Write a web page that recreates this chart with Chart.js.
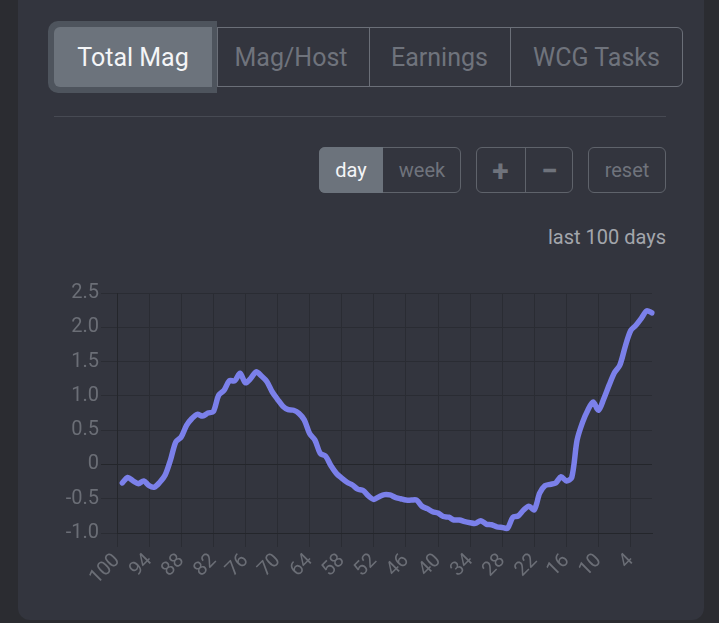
<!DOCTYPE html>
<html>
<head>
<meta charset="utf-8">
<script src="https://cdn.jsdelivr.net/npm/chart.js@4.4.1/dist/chart.umd.min.js"></script>
<style>
  html, body { margin: 0; padding: 0; }
  body {
    width: 719px; height: 623px; overflow: hidden; position: relative;
    background: #2b2c31; font-family: Roboto, "Noto Sans", sans-serif;
  }
  .abs { position: absolute; box-sizing: border-box; }
  .panel { left: 18px; top: -20px; width: 686px; height: 640px; border-radius: 12px; background: #33353e; }
  .group { border: 1px solid #6b6f78; border-radius: 6px; }
  .btn { display: flex; align-items: center; justify-content: center; color: #6f737c; }
  .sep { width: 1px; background: #6b6f78; }
  .ring { left: 48px; top: 21px; width: 169px; height: 72px; border-radius: 10px 0 0 10px; background: #4e545d; }
  .tab { top: 27px; height: 60px; font-size: 25px; }
  .small { top: 147px; height: 46px; font-size: 20px; }
  #wrap { left: 0; top: 0; width: 719px; height: 623px; }
</style>
</head>
<body>
<div class="abs panel"></div>

<!-- metric tabs -->
<div class="abs group" style="left:54px;top:27px;width:629px;height:60px;"></div>
<div class="abs ring"></div>
<div class="abs btn tab" style="left:54px;width:158px;background:#6c737c;border-radius:6px 0 0 6px;color:#f4f5f7;">Total Mag</div>
<div class="abs sep" style="left:217px;top:27px;height:60px;"></div>
<div class="abs btn tab" style="left:215px;width:152px;">Mag/Host</div>
<div class="abs sep" style="left:369px;top:27px;height:60px;"></div>
<div class="abs btn tab" style="left:369px;width:141px;">Earnings</div>
<div class="abs sep" style="left:510px;top:27px;height:60px;"></div>
<div class="abs btn tab" style="left:510px;width:173px;">WCG Tasks</div>

<div class="abs" style="left:54px;top:116px;width:612px;height:1px;background:#474a53;"></div>

<!-- range buttons -->
<div class="abs group" style="left:319px;top:147px;width:142px;height:46px;border-color:#5f636b;"></div>
<div class="abs btn small" style="left:319px;width:64px;background:#6c737c;border-radius:6px 0 0 6px;color:#f4f5f7;">day</div>
<div class="abs btn small" style="left:383px;width:78px;">week</div>

<div class="abs group" style="left:476px;top:147px;width:97px;height:46px;border-color:#5f636b;"></div>
<div class="abs" style="left:525px;top:147px;width:1px;height:46px;background:#5f636b;"></div>
<div class="abs btn small" style="left:476px;width:49px;font-size:30px;font-weight:bold;">+</div>
<div class="abs btn small" style="left:526px;width:47px;font-size:30px;font-weight:bold;">&minus;</div>

<div class="abs group" style="left:588px;top:147px;width:78px;height:46px;border-color:#5f636b;"></div>
<div class="abs btn small" style="left:588px;width:78px;">reset</div>

<div class="abs" style="right:53px;top:225px;font-size:20px;color:#a3a6ac;">last 100 days</div>

<div class="abs" id="wrap"><canvas id="magChart"></canvas></div>

<script>
// days ago, oldest on the left
const days = [100, 99, 98, 97, 96, 95, 94, 93, 92, 91, 90, 89, 88, 87, 86, 85, 84, 83, 82, 81,
  80, 79, 78, 77, 76, 75, 74, 73, 72, 71, 70, 69, 68, 67, 66, 65, 64, 63, 62, 61,
  60, 59, 58, 57, 56, 55, 54, 53, 52, 51, 50, 49, 48, 47, 46, 45, 44, 43, 42, 41,
  40, 39, 38, 37, 36, 35, 34, 33, 32, 31, 30, 29, 28, 27, 26, 25, 24, 23, 22, 21,
  20, 19, 18, 17, 16, 15, 14, 13, 12, 11, 10, 9, 8, 7, 6, 5, 4, 3, 2, 1, 0];

// total magnitude (no value for day 100)
const totalMag = [null,
  -0.27, -0.19, -0.24, -0.28, -0.24, -0.31, -0.33, -0.26, -0.155, 0.065,
  0.33, 0.40, 0.57, 0.67, 0.73, 0.705, 0.75, 0.77, 1.01, 1.08,
  1.22, 1.22, 1.33, 1.19, 1.255, 1.35, 1.29, 1.21, 1.06, 0.95,
  0.85, 0.80, 0.79, 0.745, 0.65, 0.45, 0.355, 0.16, 0.12, -0.02,
  -0.13, -0.20, -0.26, -0.30, -0.36, -0.38, -0.46, -0.51, -0.47, -0.44,
  -0.445, -0.48, -0.50, -0.52, -0.52, -0.52, -0.61, -0.645, -0.69, -0.71,
  -0.76, -0.77, -0.81, -0.81, -0.835, -0.85, -0.86, -0.82, -0.87, -0.88,
  -0.91, -0.92, -0.93, -0.77, -0.75, -0.665, -0.61, -0.66, -0.42, -0.31,
  -0.29, -0.27, -0.18, -0.24, -0.19, 0.355, 0.61, 0.79, 0.91, 0.79,
  0.96, 1.16, 1.34, 1.45, 1.72, 1.95, 2.03, 2.13, 2.24, 2.21];

const xTickLabels = [100, 94, 88, 82, 76, 70, 64, 58, 52, 46, 40, 34, 28, 22, 16, 10, 4];
const yTicks = [-1.0, -0.5, 0, 0.5, 1.0, 1.5, 2.0, 2.5];

const gridColor = '#2a2c33';
const axisColor = '#24262b';
const labelColor = '#6b6e76';

const shown = (i) => xTickLabels.includes(days[i]);

const data = {
  labels: days,
  datasets: [{
    label: 'Total Mag',
    data: totalMag,
    borderColor: '#7b80ea',
    borderWidth: 5.5,
    borderCapStyle: 'round',
    borderJoinStyle: 'round',
    pointRadius: 0,
    tension: 0.3,
    fill: false
  }]
};

const config = {
  type: 'line',
  data: data,
  options: {
    responsive: true,
    maintainAspectRatio: false,
    animation: false,
    layout: { padding: { left: 57, right: 67, top: 293, bottom: 40 } },
    plugins: { legend: { display: false }, tooltip: { enabled: false } },
    scales: {
      x: {
        afterFit: (scale) => { scale.height = 50; },
        grid: {
          color: (ctx) => shown(ctx.index) ? gridColor : 'transparent',
          tickLength: 14
        },
        border: { color: axisColor },
        ticks: {
          autoSkip: false,
          minRotation: 45,
          maxRotation: 45,
          padding: 2,
          color: labelColor,
          font: { family: 'Roboto', size: 20 },
          callback: function (value, index) { return shown(index) ? String(days[index]) : ''; }
        }
      },
      y: {
        min: yTicks[0],
        max: yTicks[yTicks.length - 1],
        afterFit: (scale) => { scale.width = 60; },
        afterBuildTicks: (scale) => { scale.ticks = yTicks.map(v => ({ value: v })); },
        grid: {
          color: (ctx) => (ctx.tick && ctx.tick.value === 0) ? axisColor : gridColor,
          tickLength: 16
        },
        border: { color: axisColor },
        ticks: {
          padding: 2,
          color: labelColor,
          font: { family: 'Roboto', size: 20 },
          callback: (v) => v === 0 ? '0' : v.toFixed(1)
        }
      }
    }
  }
};

const magChart = new Chart(document.getElementById('magChart'), config);
</script>
</body>
</html>
